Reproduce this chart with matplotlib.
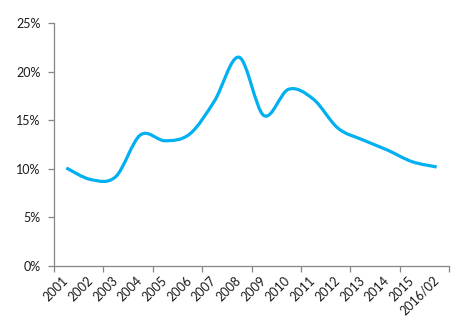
import matplotlib
matplotlib.use("Agg")
import matplotlib.pyplot as plt
from matplotlib.path import Path
from matplotlib.patches import PathPatch
from matplotlib.ticker import PercentFormatter, FixedLocator
import numpy as np

years = ["2001", "2002", "2003", "2004", "2005", "2006", "2007", "2008",
         "2009", "2010", "2011", "2012", "2013", "2014", "2015", "2016/02"]
rates = [10.1, 8.9, 9.2, 13.5, 12.9, 13.6, 17.0, 21.5,
         15.5, 18.2, 17.2, 14.2, 13.0, 11.95, 10.75, 10.2]

LINE_COLOR = "#00B0F0"
AXIS_COLOR = "#868686"
TEXT_COLOR = "#1a1a1a"

plt.rcParams['font.family'] = ['Lato', 'DejaVu Sans']

fig = plt.figure(figsize=(4.61, 3.21), dpi=100)
ax = fig.add_axes([54 / 461, 55 / 321, 395 / 461, 242.7 / 321])

# smoothed line like a spreadsheet chart: cubic bezier segments through each point
x = np.arange(len(rates), dtype=float)
y = np.array(rates) / 100.0
verts = [(x[0], y[0])]
codes = [Path.MOVETO]
n = len(x)
for i in range(n - 1):
    p0 = max(i - 1, 0)
    p3 = min(i + 2, n - 1)
    c1 = (x[i] + (x[i + 1] - x[p0]) / 6, y[i] + (y[i + 1] - y[p0]) / 6)
    c2 = (x[i + 1] - (x[p3] - x[i]) / 6, y[i + 1] - (y[p3] - y[i]) / 6)
    verts += [c1, c2, (x[i + 1], y[i + 1])]
    codes += [Path.CURVE4] * 3
ax.add_patch(PathPatch(Path(verts, codes), facecolor="none", edgecolor=LINE_COLOR,
                       lw=2.3, capstyle="butt", joinstyle="round"))

ax.set_xlim(-0.5, len(years) - 0.5)
ax.set_ylim(0, 0.25)

ax.set_yticks(np.arange(0, 0.2501, 0.05))
ax.yaxis.set_major_formatter(PercentFormatter(1.0, decimals=0))

ax.set_xticks(x)
ax.set_xticklabels(years, rotation=45, ha="right", va="center", rotation_mode="anchor")
ax.xaxis.set_minor_locator(FixedLocator(np.arange(-0.5, len(years), 2)))
ax.tick_params(axis="x", which="major", length=0, pad=9, labelsize=9, labelcolor=TEXT_COLOR)
ax.tick_params(axis="x", which="minor", length=4, width=0.9, color=AXIS_COLOR, direction="out")
ax.tick_params(axis="y", length=4.5, width=0.9, color=AXIS_COLOR, pad=5,
               labelsize=9, labelcolor=TEXT_COLOR)

for side in ["top", "right"]:
    ax.spines[side].set_visible(False)
for side in ["left", "bottom"]:
    ax.spines[side].set_color(AXIS_COLOR)
    ax.spines[side].set_linewidth(0.9)

fig.savefig("out.png", dpi=100)
